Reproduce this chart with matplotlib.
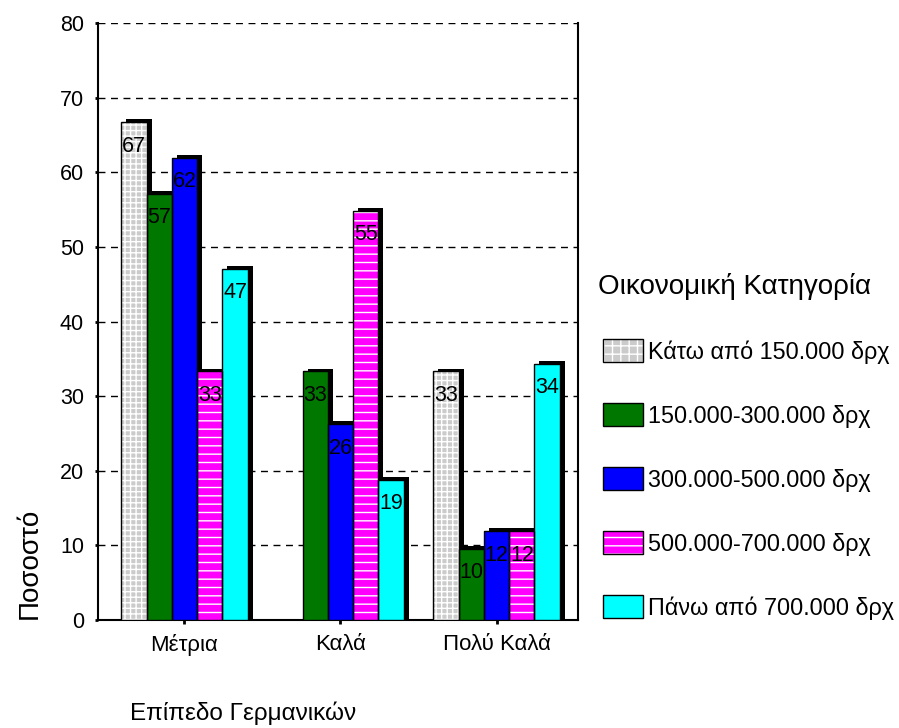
import numpy as np
import matplotlib
matplotlib.use("Agg")
import matplotlib.pyplot as plt
from matplotlib.patches import Patch
from matplotlib.legend_handler import HandlerTuple

plt.rcParams['font.family'] = ['Liberation Sans', 'DejaVu Sans']

# Data
groups = ["Μέτρια", "Καλά", "Πολύ Καλά"]
series = ["Κάτω από 150.000 δρχ", "150.000-300.000 δρχ", "300.000-500.000 δρχ",
          "500.000-700.000 δρχ", "Πάνω από 700.000 δρχ"]
below_150 = [66.7, 0.0, 33.3]
from_150_300 = [57.1, 33.3, 9.5]
from_300_500 = [61.9, 26.2, 11.9]
from_500_700 = [33.3, 54.8, 11.9]
above_700 = [47.1, 18.8, 34.3]
values = [below_150, from_150_300, from_300_500, from_500_700, above_700]

colors = ["#cbcbcb", "#007800", "#0000ff", "#ff00ff", "#00ffff"]
hatches = ["+++", None, None, "--", None]

fig = plt.figure(figsize=(8.99, 7.28), dpi=100)
ax = fig.add_axes([98 / 899, 1 - 620 / 728, 480 / 899, 597 / 728])

x = np.arange(len(groups))
w = 0.162
dx, dy = 0.032, 0.4

# shadows first
for i, vals in enumerate(values):
    xs = x + (i - 2) * w
    for xi, v in zip(xs, vals):
        if v > 0:
            ax.bar(xi + dx, v + dy, width=w, color="black", zorder=2, linewidth=0)

handles = []
for i, vals in enumerate(values):
    xs = x + (i - 2) * w
    ax.bar(xs, vals, width=w, color=colors[i], linewidth=0, zorder=3)
    if hatches[i]:
        ax.bar(xs, vals, width=w, color="none", edgecolor="white", hatch=hatches[i],
               linewidth=0, zorder=4)
    # outline on top of the hatch
    ax.bar(xs, vals, width=w, color="none", edgecolor="black", linewidth=1, zorder=5)
    for xi, v in zip(xs, vals):
        if v > 0:
            ax.text(xi, v - 3.2, f"{v:.0f}", ha="center", va="center", fontsize=15.5, zorder=6)
    p_fill = Patch(facecolor=colors[i], linewidth=0)
    p_edge = Patch(facecolor="none", edgecolor="black", linewidth=1)
    if hatches[i]:
        p_h = Patch(facecolor="none", edgecolor="white", hatch=hatches[i][:2], linewidth=0)
        handles.append((p_fill, p_h, p_edge))
    else:
        handles.append((p_fill, p_edge))

ax.set_ylim(0, 80)
ax.set_xlim(-0.554, 2.522)
ax.set_yticks(range(0, 81, 10))
ax.set_xticks(x)
ax.set_xticklabels(groups, fontsize=16)
ax.tick_params(axis="y", labelsize=15.5, length=2, width=2, pad=8)
ax.tick_params(axis="x", length=3, width=2, pad=7)
for yv in range(10, 81, 10):
    ax.axhline(yv, color="black", linestyle=(0, (5, 4)), linewidth=1, zorder=1)
ax.spines["top"].set_visible(False)
for s in ["left", "right", "bottom"]:
    ax.spines[s].set_linewidth(1.5)

fig.text(30 / 899, 1 - 563 / 728, "Ποσοστό", rotation=90, ha="center", va="center", fontsize=20)
fig.text(130 / 899, 1 - 713 / 728, "Επίπεδο Γερμανικών", ha="left", va="center", fontsize=17.5)
fig.text(598 / 899, 1 - 287 / 728, "Οικονομική Κατηγορία", ha="left", va="center", fontsize=20)

leg = fig.legend(handles, series, handler_map={tuple: HandlerTuple(ndivide=1, pad=0)},
                 loc="upper left", bbox_to_anchor=(603 / 899, 1 - 339 / 728),
                 frameon=False, fontsize=16.8, handlelength=1.72, handleheight=1.16,
                 labelspacing=1.69, handletextpad=0.2, borderaxespad=0, borderpad=0)

fig.savefig("out.png", dpi=100)
